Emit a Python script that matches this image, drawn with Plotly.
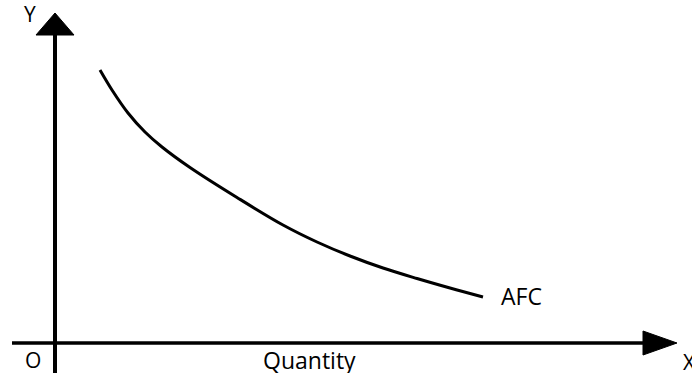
import plotly.graph_objects as go

# AFC curve (quantity, average fixed cost)
quantity = [45, 57, 73, 90, 107, 135, 182, 228, 262, 295, 328, 362, 395, 428]
afc = [273, 253, 230, 211, 196, 175.5, 145.5, 118, 101, 87, 75, 64.5, 55, 46]

curve_label = "AFC"
x_title = "Quantity"
y_title = "Y"
x_end_label = "X"
origin_label = "O"

# axis extents (data units)
X_MIN, X_MAX = -55, 637
Y_MIN, Y_MAX = -30, 343

fig = go.Figure()
fig.add_trace(go.Scatter(
    x=quantity, y=afc, mode="lines",
    line=dict(color="black", width=3, shape="spline", smoothing=1.0),
    hoverinfo="skip", showlegend=False,
))

# axes lines
fig.add_shape(type="line", x0=0, x1=0, y0=Y_MIN, y1=312,
              line=dict(color="black", width=4))
fig.add_shape(type="line", x0=-43, x1=592, y0=0, y1=0,
              line=dict(color="black", width=3.5))
# arrow heads
fig.add_shape(type="path", path="M 0 330 L -19 308 L 19 308 Z",
              fillcolor="black", line=dict(color="black", width=1))
fig.add_shape(type="path", path="M 622 0 L 588 12 L 588 -12 Z",
              fillcolor="black", line=dict(color="black", width=1))

font = dict(family="Open Sans", size=21, color="black")
fig.add_annotation(x=-25, y=329, text=y_title, showarrow=False, font=font,
                   xanchor="center", yanchor="middle")
fig.add_annotation(x=-22, y=-17, text=origin_label, showarrow=False, font=font,
                   xanchor="center", yanchor="middle")
fig.add_annotation(x=254, y=-17, text=x_title, showarrow=False,
                   font=dict(family="Open Sans", size=23, color="black"),
                   xanchor="center", yanchor="middle")
fig.add_annotation(x=626, y=-19, text=x_end_label, showarrow=False, font=font,
                   xanchor="left", yanchor="middle")
fig.add_annotation(x=444, y=47, text=curve_label, showarrow=False,
                   font=dict(family="Open Sans", size=23, color="black"),
                   xanchor="left", yanchor="middle")

fig.update_layout(
    width=692, height=373,
    margin=dict(l=0, r=0, t=0, b=0),
    paper_bgcolor="white", plot_bgcolor="white",
    xaxis=dict(range=[X_MIN, X_MAX], visible=False, fixedrange=True),
    yaxis=dict(range=[Y_MIN, Y_MAX], visible=False, fixedrange=True),
    showlegend=False,
)
fig.write_html("out.html", config={"displayModeBar": False},
               post_script="document.body.style.margin='0';")
